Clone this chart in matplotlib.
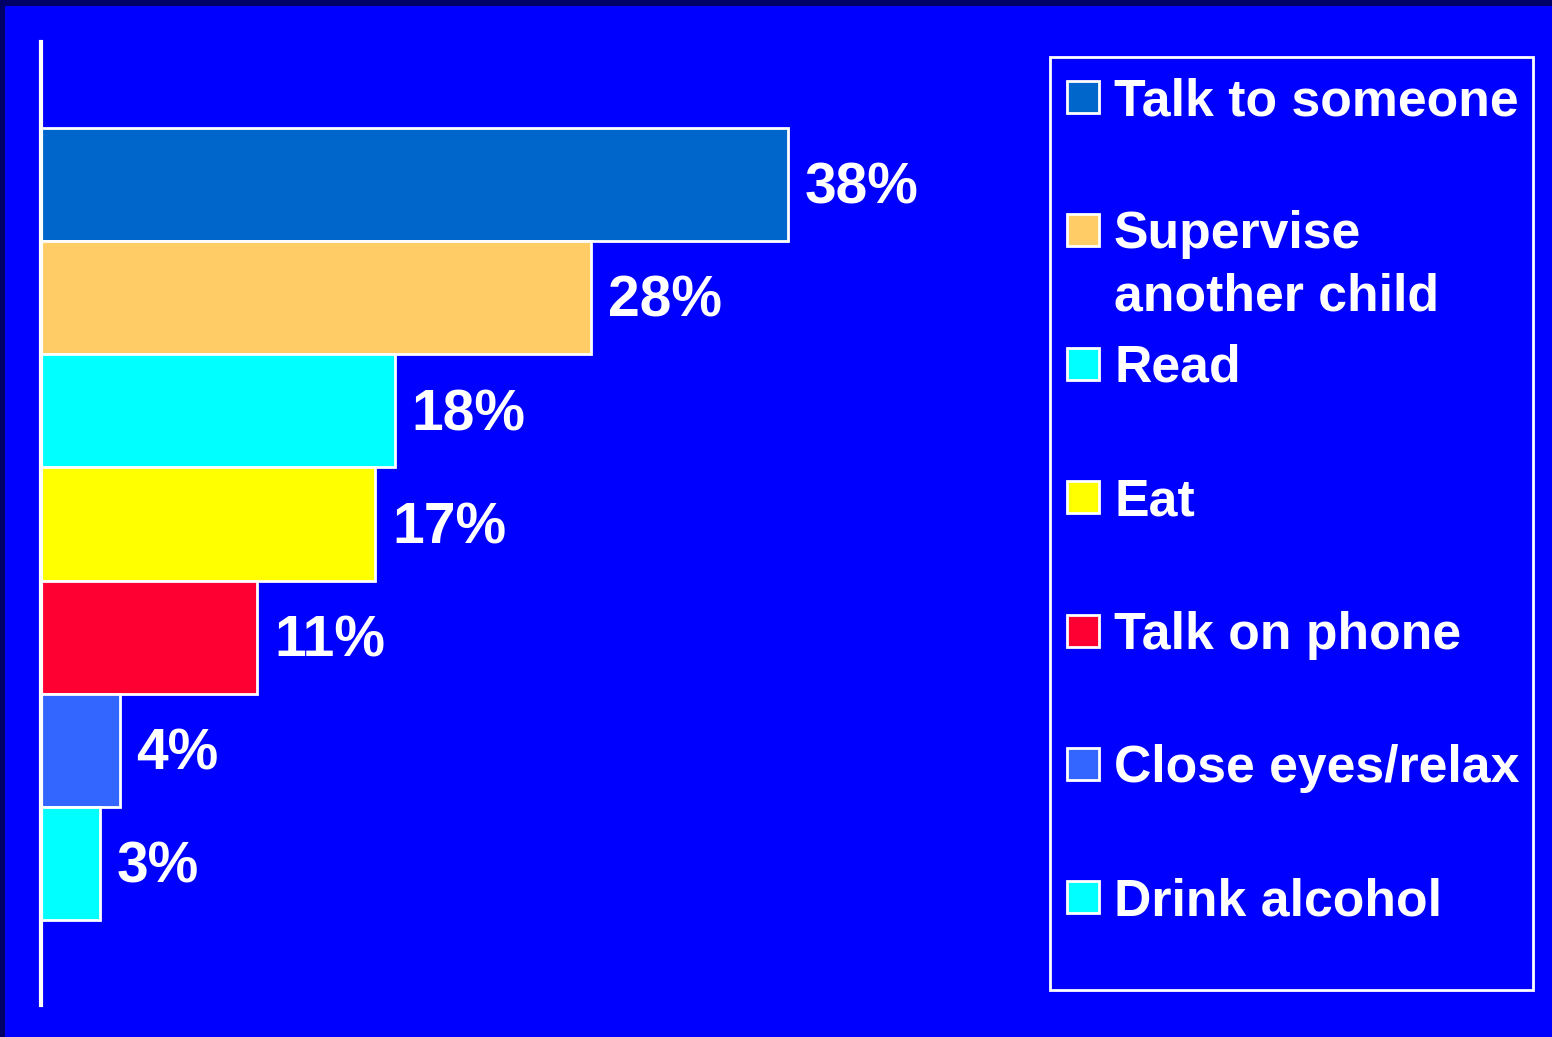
import matplotlib.pyplot as plt
from matplotlib.patches import Rectangle

plt.rcParams['font.family'] = ['Liberation Sans', 'DejaVu Sans']
plt.rcParams['font.weight'] = 'bold'

activities = ['Talk to someone', 'Supervise\nanother child', 'Read', 'Eat',
              'Talk on phone', 'Close eyes/relax', 'Drink alcohol']
percents = [38, 28, 18, 17, 11, 4, 3]
colors = ['#0066CC', '#FFCC66', '#00FFFF', '#FFFF00', '#FF0033', '#3366FF', '#00FFFF']

BG = '#0000FF'
W, H = 1552, 1037

fig = plt.figure(figsize=(W / 100, H / 100), dpi=100, facecolor=BG)

# dark frame along the top and left edges
fig.patches.append(Rectangle((0, 1 - 6 / H), 1, 6 / H, transform=fig.transFigure,
                             facecolor='#000066', edgecolor='none'))
fig.patches.append(Rectangle((0, 0), 5 / W, 1, transform=fig.transFigure,
                             facecolor='#000066', edgecolor='none'))

# main bar axes
left, right = 41, 1024
top, bottom = 42, 1005
ax = fig.add_axes([left / W, 1 - bottom / H, (right - left) / W, (bottom - top) / H])
ax.set_facecolor(BG)
ypos = list(range(len(percents)))
bars = ax.barh(ypos, percents, height=1.0, color=colors, edgecolor='white', linewidth=2)
ax.set_xlim(0, 50)
ax.set_ylim(len(percents) - 0.5 + 0.75, -0.5 - 0.76)
for s in ['top', 'right', 'bottom']:
    ax.spines[s].set_visible(False)
ax.spines['left'].set_color('white')
ax.spines['left'].set_linewidth(3)
ax.set_xticks([])
ax.set_yticks([])

for b, v in zip(bars, percents):
    ax.annotate(f'{v}%', (b.get_width(), b.get_y() + b.get_height() / 2),
                xytext=(12, -3), textcoords='offset points', va='center', ha='left',
                color='white', fontsize=41, fontweight='bold')

# legend panel, laid out in pixel coordinates
lg = fig.add_axes([0, 0, 1, 1])
lg.set_xlim(0, W)
lg.set_ylim(H, 0)
lg.axis('off')
lg.patch.set_alpha(0)
lg.add_patch(Rectangle((1050, 57), 483, 933, facecolor='none', edgecolor='white', linewidth=2))

step = 133.4
for i, (name, c) in enumerate(zip(activities, colors)):
    base = 115 + i * step
    lg.add_patch(Rectangle((1067, base - 34), 32, 32, facecolor=c, edgecolor='white', linewidth=2))
    for k, line in enumerate(name.split('\n')):
        lg.text(1114, base + k * 62, line, color='white', fontsize=37.3, fontweight='bold',
                va='baseline', ha='left')

fig.savefig('out.png', dpi=100, facecolor=BG)
